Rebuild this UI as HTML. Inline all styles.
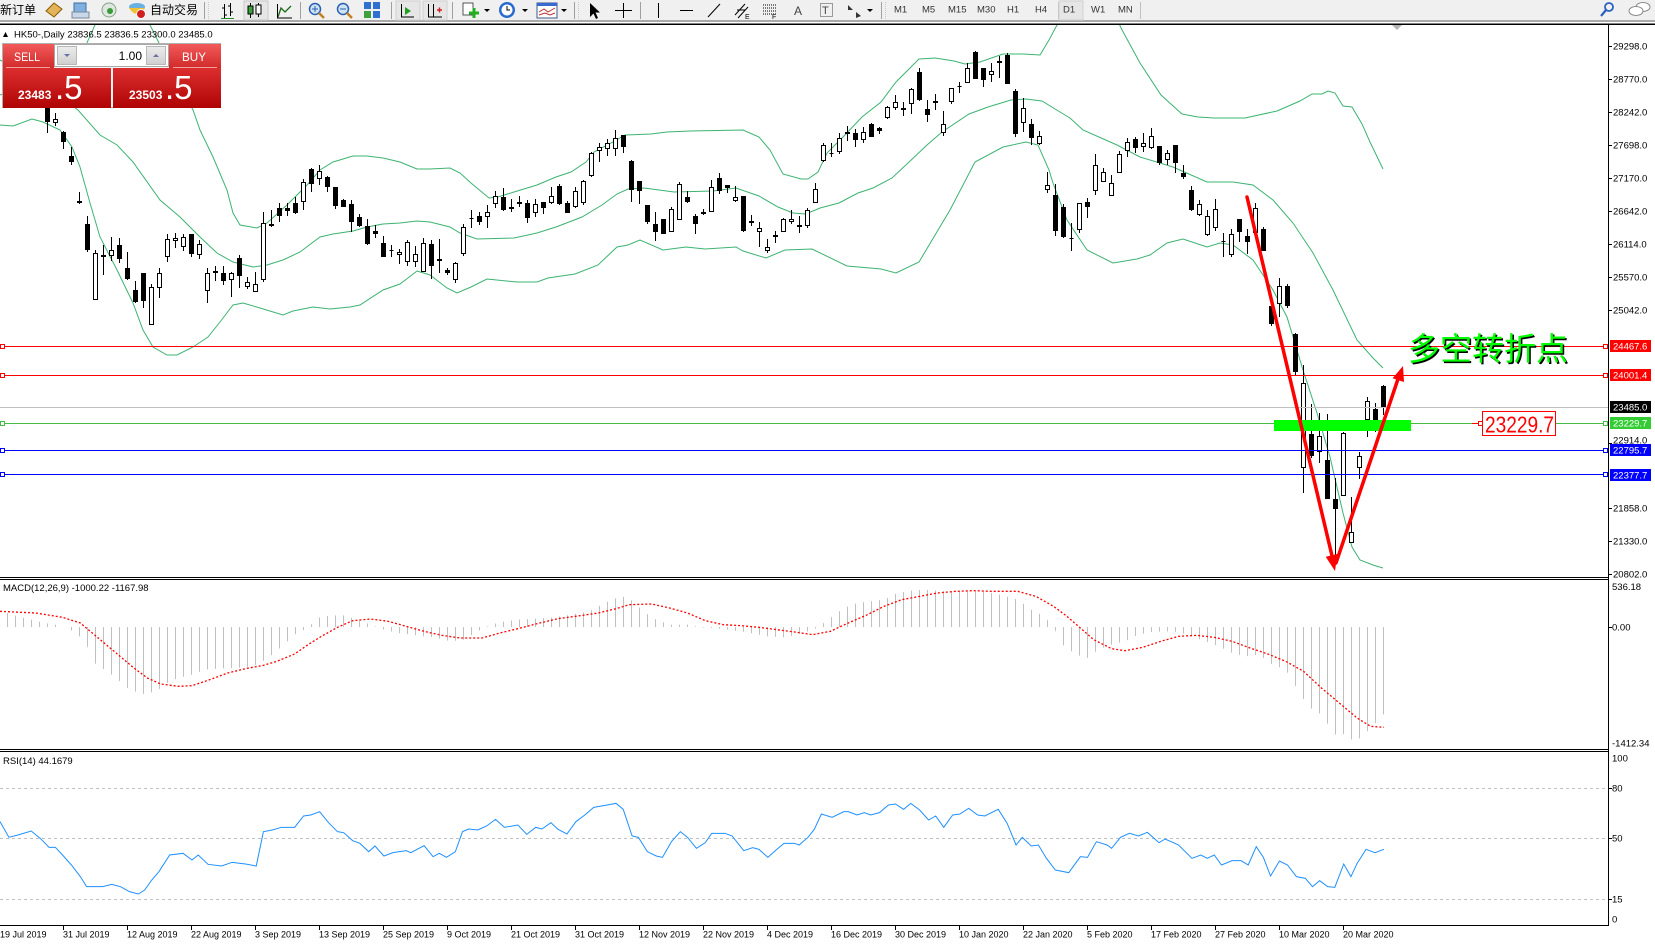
<!DOCTYPE html>
<html>
<head>
<meta charset="utf-8">
<style>
html,body{margin:0;padding:0;background:#fff;overflow:hidden;}
svg{display:block;}
text{font-family:"Liberation Sans","Noto Sans CJK SC",sans-serif;}
</style>
</head>
<body>
<svg width="1655" height="944" viewBox="0 0 1655 944" xmlns="http://www.w3.org/2000/svg">
<defs>
  <clipPath id="cm"><rect x="0" y="25" width="1608" height="552"/></clipPath>
  <linearGradient id="gR1" x1="0" y1="0" x2="0" y2="1"><stop offset="0" stop-color="#f25a5a"/><stop offset="1" stop-color="#d22a2a"/></linearGradient>
  <linearGradient id="gR2" x1="0" y1="0" x2="0" y2="1"><stop offset="0" stop-color="#dc2e2e"/><stop offset="1" stop-color="#b00404"/></linearGradient>
  <linearGradient id="gBtn" x1="0" y1="0" x2="0" y2="1"><stop offset="0" stop-color="#ececec"/><stop offset="1" stop-color="#cfcfcf"/></linearGradient>
  <pattern id="hp" patternUnits="userSpaceOnUse" x="0" y="0" width="8.96" height="30"><rect x="7.84" y="0" width="1.12" height="30" fill="#c0c0c0"/></pattern>
</defs>
<rect x="0" y="0" width="1655" height="944" fill="#fff"/>

<!-- ================= TOOLBAR ================= -->
<g id="toolbar">
  <rect x="0" y="0" width="1655" height="21" fill="#f0f0f0"/>
  <rect x="0" y="20" width="1655" height="2" fill="#a9a9a9"/>
  <rect x="0" y="22" width="1655" height="1.5" fill="#ffffff"/>
  <rect x="0" y="23.5" width="1655" height="1.5" fill="#000"/>
  <text x="0" y="14" font-size="12" fill="#000">新订单</text>
  <polygon points="46,11 54,3 62,9 54,17" fill="#e3b35a" stroke="#8b5a00" stroke-width="1"/>
  <rect x="74" y="3" width="12" height="9" fill="#7fb0e0" stroke="#3a6ea5"/>
  <rect x="72" y="12" width="17" height="6" fill="#c8d8e8" stroke="#7a8a9a"/>
  <circle cx="109" cy="10" r="7" fill="#dfe8df" stroke="#8aa08a"/>
  <circle cx="110" cy="11" r="3" fill="#3a9a3a"/>
  <ellipse cx="137" cy="7" rx="8" ry="4" fill="#6ab0e0"/>
  <path d="M129,8 Q137,20 145,8 Z" fill="#f0c030"/>
  <circle cx="141" cy="14" r="4.5" fill="#d02020" stroke="#fff" stroke-width="1"/>
  <text x="150" y="14" font-size="12" fill="#000">自动交易</text>
  <line x1="204.5" y1="2" x2="204.5" y2="19" stroke="#a0a0a0"/>
  <line x1="208.5" y1="2" x2="208.5" y2="19" stroke="#c8c8c8" stroke-dasharray="1,1"/>
  <path d="M224.5 4V18 M222 8H224.5 M224.5 15H227 M230.5 3V16 M228 6H230.5 M230.5 12H233" stroke="#000" fill="none"/>
  <line x1="221" y1="18.5" x2="234" y2="18.5" stroke="#2a8a2a"/>
  <rect x="244" y="1" width="24" height="19" fill="#e6e6e6" stroke="#c8c8c8"/>
  <path d="M250.5 3V18 M258.5 3V17" stroke="#000"/>
  <rect x="248" y="6" width="5" height="8" fill="#3aa03a" stroke="#000"/>
  <rect x="256" y="5" width="5" height="9" fill="#fff" stroke="#000"/>
  <path d="M278 17 L281 8 L285 12 L291 6" stroke="#1a6a1a" fill="none" stroke-width="1.3"/>
  <path d="M277.5 4V18H292" stroke="#000" fill="none"/>
  <line x1="300.5" y1="2" x2="300.5" y2="19" stroke="#a0a0a0"/>
  <circle cx="315" cy="9" r="5.5" fill="#cfe3f7" stroke="#2a60b0" stroke-width="1.5"/>
  <path d="M312 9h6M315 6v6" stroke="#2a60b0"/>
  <line x1="319" y1="13" x2="324" y2="18" stroke="#c08020" stroke-width="2.5"/>
  <circle cx="343" cy="9" r="5.5" fill="#cfe3f7" stroke="#2a60b0" stroke-width="1.5"/>
  <path d="M340 9h6" stroke="#2a60b0"/>
  <line x1="347" y1="13" x2="352" y2="18" stroke="#c08020" stroke-width="2.5"/>
  <rect x="364" y="2" width="7" height="7" fill="#3070d0"/><rect x="373" y="2" width="7" height="7" fill="#3070d0"/>
  <rect x="364" y="11" width="7" height="7" fill="#40a040"/><rect x="373" y="11" width="7" height="7" fill="#3070d0"/>
  <line x1="391.5" y1="2" x2="391.5" y2="19" stroke="#a0a0a0"/>
  <rect x="396" y="1" width="24" height="19" fill="#e6e6e6" stroke="#d0d0d0"/>
  <path d="M401.5 4V17H414" stroke="#000" fill="none"/>
  <polygon points="405,7 411,11 405,15" fill="#20a020"/>
  <rect x="423" y="1" width="24" height="19" fill="#e6e6e6" stroke="#d0d0d0"/>
  <path d="M428.5 4V17H442 M433.5 4V17" stroke="#000" fill="none"/>
  <path d="M437 10h5M439.5 7.5v5" stroke="#d02020" stroke-width="1.5"/>
  <line x1="452.5" y1="2" x2="452.5" y2="19" stroke="#a0a0a0"/>
  <rect x="463" y="3" width="10" height="12" fill="#fff" stroke="#555"/>
  <path d="M474 8v10M469 13h10" stroke="#20b020" stroke-width="3"/>
  <polygon points="484,9 490,9 487,12" fill="#000"/>
  <circle cx="507" cy="10" r="8" fill="#2a6ad0"/><circle cx="507" cy="10" r="5.5" fill="#fff"/>
  <path d="M507 6v4h3" stroke="#000" fill="none"/>
  <polygon points="522,9 528,9 525,12" fill="#000"/>
  <rect x="537" y="3" width="20" height="15" fill="#fff" stroke="#3a5a8a"/>
  <rect x="537" y="3" width="20" height="3" fill="#3a6ad0"/>
  <path d="M539 12 L544 9 L548 12 L555 8 M539 15 L545 13 L550 15 L555 13" stroke="#c03030" fill="none"/>
  <polygon points="561,9 567,9 564,12" fill="#000"/>
  <line x1="574.5" y1="2" x2="574.5" y2="19" stroke="#a0a0a0"/>
  <line x1="578.5" y1="2" x2="578.5" y2="19" stroke="#c8c8c8" stroke-dasharray="1,1"/>
  <polygon points="590,3 590,17 593.5,13.5 596,19 598,18 595.5,12.5 600,12.5" fill="#000"/>
  <path d="M623.5 3V18 M615 10.5H632" stroke="#000"/>
  <line x1="640.5" y1="2" x2="640.5" y2="19" stroke="#a0a0a0"/>
  <line x1="658.5" y1="3" x2="658.5" y2="18" stroke="#000"/>
  <line x1="680" y1="10.5" x2="693" y2="10.5" stroke="#000"/>
  <line x1="708" y1="17" x2="720" y2="4" stroke="#000"/>
  <path d="M735 15 L745 4 M738 18 L748 7 M737 10h8" stroke="#000" fill="none"/>
  <text x="745" y="19" font-size="7" fill="#000">E</text>
  <path d="M763 5h13M763 8h13M763 11h13M763 14h13" stroke="#000" stroke-dasharray="1,1"/>
  <text x="772" y="19" font-size="7" fill="#000">F</text>
  <text x="794" y="15" font-size="12" fill="#444">A</text>
  <rect x="820.5" y="3.5" width="12" height="13" fill="none" stroke="#444" stroke-dasharray="1,1"/>
  <text x="822" y="14" font-size="11" fill="#444">T</text>
  <path d="M848 5l5 5-5 0z M856 12l5 4-5 2z" fill="#333"/>
  <polygon points="867,9 873,9 870,12" fill="#000"/>
  <line x1="881.5" y1="2" x2="881.5" y2="19" stroke="#a0a0a0"/>
  <line x1="885.5" y1="2" x2="885.5" y2="19" stroke="#c8c8c8" stroke-dasharray="1,1"/>
  <g font-size="9.5" fill="#333">
    <text x="894" y="12.5">M1</text>
    <text x="922" y="12.5">M5</text>
    <text x="948" y="12.5">M15</text>
    <text x="977" y="12.5">M30</text>
    <text x="1007" y="12.5">H1</text>
    <text x="1035" y="12.5">H4</text>
  </g>
  <line x1="1058.5" y1="2" x2="1058.5" y2="19" stroke="#c0c0c0"/>
  <rect x="1059" y="1" width="24" height="19" fill="#e6e6e6" stroke="#d0d0d0"/>
  <g font-size="9.5" fill="#333">
    <text x="1063" y="12.5">D1</text>
    <text x="1091" y="12.5">W1</text>
    <text x="1118" y="12.5">MN</text>
  </g>
  <line x1="1140.5" y1="2" x2="1140.5" y2="19" stroke="#c0c0c0"/>
  <circle cx="1609" cy="7" r="4" fill="none" stroke="#2a60c0" stroke-width="1.8"/>
  <line x1="1606" y1="10" x2="1601" y2="16" stroke="#2a60c0" stroke-width="2.2"/>
  <ellipse cx="1643" cy="7" rx="7" ry="4.5" fill="#fff" stroke="#888"/>
  <ellipse cx="1636" cy="11" rx="7" ry="4.5" fill="#fff" stroke="#888"/>
</g>

<!-- RSI level lines -->
<g stroke="#c0c0c0" stroke-dasharray="3,3" stroke-width="1">
  <line x1="0" y1="788.5" x2="1608" y2="788.5"/>
  <line x1="0" y1="838.5" x2="1608" y2="838.5"/>
  <line x1="0" y1="899.5" x2="1608" y2="899.5"/>
</g>

<!-- ================= MAIN CHART ================= -->
<g clip-path="url(#cm)">
  <g fill="none" stroke="#3cb371" stroke-width="1">
    <polyline points="0,95 40,78 70,60 86,45 95,25 105,-10 140,-10 150,25 160,45 175,75 193,110 200,130 213,157 227,190 233,213 240,225 257,228 267,223 287,205 307,185 320,170 333,162 353,156 367,156 383,158 400,162 417,169 430,169 450,168 460,173 471,183 489,198 498,197 514,192 537,185 556,177 571,172 586,162 594,152 613,142 625,135 651,134 667,132 690,131 743,130 759,137 770,150 783,174 801,179 808,179 818,172 827,153 843,137 862,117 881,102 896,82 919,59 935,58 954,61 965,64 980,62 1003,54 1023,54 1040,55 1049,40 1057,25 1070,-10 1105,-10 1121,28 1140,63 1161,95 1182,114 1198,117 1214,118 1245,118 1277,111 1300,101 1312,94 1322,94 1328,91 1335,93 1343,106 1352,107 1362,124 1370,142 1383,169"/>
    <polyline points="0,60 40,82 78,110 100,135 117,145 133,162 160,200 180,217 200,237 217,253 233,262 253,267 267,265 283,260 300,252 320,237 333,234 353,231 367,227 383,224 400,223 417,221 430,222 450,227 460,233 477,239 514,238 537,233 556,227 582,217 602,205 617,194 628,189 644,188 674,192 713,191 736,188 759,196 778,207 793,213 806,214 820,208 839,203 858,193 873,188 892,178 908,163 927,145 942,132 969,114 988,107 1011,100 1026,99 1042,101 1060,112 1070,118 1083,130 1117,145 1140,157 1173,167 1207,182 1233,182 1253,185 1273,200 1293,223 1313,253 1333,290 1357,340 1373,358 1383,368"/>
    <polyline points="0,125 13,126 32,119 43,122 60,130 72,147 80,167 90,203 100,237 117,270 133,303 143,330 153,347 167,355 177,355 193,347 208,337 220,322 233,305 243,303 260,308 283,315 293,311 313,307 330,309 350,307 360,305 383,290 400,284 417,271 430,275 447,288 457,293 471,287 487,279 517,282 537,282 548,278 575,274 598,265 617,247 628,245 640,240 663,250 686,247 705,249 736,247 743,251 766,258 785,250 812,249 847,266 881,269 896,273 919,262 950,210 975,162 1003,147 1026,142 1038,145 1049,170 1053,183 1067,220 1087,250 1113,263 1137,259 1150,255 1167,243 1183,239 1207,247 1220,243 1233,245 1253,260 1273,290 1287,317 1303,370 1317,413 1330,457 1343,513 1352,547 1360,560 1373,565 1383,568"/>
  </g>

  <!-- candles -->
  <path fill="none" stroke="#000" stroke-width="1" d="M7.5 85V100M15.5 92V104M23.5 90V103M31.5 88V104M39.5 92V104M47.5 104V133M55.5 113V126M63.5 131V149M71.5 147V165M79.5 192V204M87.5 216V252M95.5 250V300M103.5 245V275M111.5 237V261M119.5 238V263M127.5 252V280M135.5 281V303M143.5 273V308M151.5 284V325M159.5 268V298M167.5 234V262M175.5 233V248M183.5 234V251M191.5 234V257M199.5 240V259M207.5 268V303M215.5 266V281M223.5 266V285M231.5 272V297M239.5 255V288M247.5 277V289M255.5 272V292M263.5 212V282M271.5 210V227M279.5 203V222M287.5 203V216M295.5 197V214M303.5 179V210M311.5 168V192M319.5 165V185M327.5 176V192M335.5 187V209M343.5 199V207M351.5 200V232M359.5 214V227M367.5 219V245M375.5 225V238M383.5 236V257M391.5 245V257M399.5 249V264M407.5 240V266M415.5 246V267M423.5 238V272M431.5 240V279M439.5 239V273M447.5 268V275M455.5 262V283M463.5 224V256M471.5 210V228M479.5 212V225M487.5 205V228M495.5 191V208M503.5 188V211M511.5 199V212M519.5 196V207M527.5 200V223M535.5 199V217M543.5 202V214M551.5 187V204M559.5 184V205M567.5 201V213M575.5 187V208M583.5 180V205M591.5 152V177M599.5 143V162M607.5 139V156M615.5 130V156M623.5 135V153M631.5 160V202M639.5 181V204M647.5 205V224M655.5 212V241M663.5 219V234M671.5 207V232M679.5 182V220M687.5 191V203M695.5 214V234M703.5 209V215M711.5 180V212M719.5 173V194M727.5 185V193M735.5 186V202M743.5 196V232M751.5 215V226M759.5 222V247M767.5 239V253M775.5 231V243M783.5 218V232M791.5 210V224M799.5 216V233M807.5 208V228M815.5 183V203M823.5 143V162M831.5 143V157M839.5 133V154M847.5 126V141M855.5 129V147M863.5 127V143M871.5 123V137M879.5 127V134M887.5 106V119M895.5 95V110M903.5 102V116M911.5 88V114M919.5 68V101M927.5 100V122M935.5 94V110M943.5 111V136M951.5 88V104M959.5 82V93M967.5 63V83M975.5 51V79M983.5 68V87M991.5 63V82M999.5 56V78M1007.5 53V84M1015.5 89V137M1023.5 98V132M1031.5 119V145M1039.5 131V145M1047.5 172V193M1055.5 184V236M1063.5 204V238M1071.5 223V251M1079.5 203V233M1087.5 198V218M1095.5 154V195M1103.5 168V182M1111.5 175V196M1119.5 151V173M1127.5 138V157M1135.5 137V153M1143.5 133V152M1151.5 128V149M1159.5 146V165M1167.5 150V165M1175.5 145V173M1183.5 165V179M1191.5 186V211M1199.5 200V216M1207.5 210V236M1215.5 199V231M1223.5 233V257M1231.5 229V257M1239.5 219V242M1247.5 229V254M1255.5 203V233M1263.5 227V251M1271.5 306V326M1279.5 278V317M1287.5 284V308M1295.5 333V375M1303.5 365V493M1311.5 404V458M1319.5 413V463M1327.5 414V499M1335.5 478V563M1343.5 432V496M1351.5 497V543M1359.5 452V479M1367.5 397V437M1375.5 403V432M1383.5 385V415"/>
  <path fill="#fff" stroke="#000" stroke-width="1" d="M21.5 94.5h4v4h-4zM37.5 95.5h4v4h-4zM53.5 119.5h4v3h-4zM77.5 201.5h4v1h-4zM93.5 253.5h4v46h-4zM101.5 255.5h4v1h-4zM109.5 250.5h4v5h-4zM149.5 287.5h4v37h-4zM157.5 273.5h4v14h-4zM165.5 239.5h4v17h-4zM173.5 238.5h4v2h-4zM181.5 237.5h4v9h-4zM197.5 244.5h4v10h-4zM205.5 273.5h4v17h-4zM229.5 273.5h4v6h-4zM245.5 282.5h4v4h-4zM253.5 284.5h4v7h-4zM261.5 223.5h4v56h-4zM301.5 182.5h4v19h-4zM317.5 171.5h4v7h-4zM397.5 252.5h4v2h-4zM405.5 242.5h4v19h-4zM413.5 254.5h4v7h-4zM421.5 243.5h4v28h-4zM453.5 263.5h4v16h-4zM461.5 227.5h4v26h-4zM485.5 212.5h4v4h-4zM493.5 196.5h4v7h-4zM533.5 204.5h4v8h-4zM549.5 196.5h4v6h-4zM573.5 191.5h4v15h-4zM581.5 181.5h4v21h-4zM589.5 153.5h4v22h-4zM597.5 147.5h4v3h-4zM605.5 143.5h4v5h-4zM613.5 138.5h4v10h-4zM669.5 209.5h4v22h-4zM677.5 184.5h4v35h-4zM701.5 212.5h4v1h-4zM709.5 187.5h4v24h-4zM733.5 197.5h4v3h-4zM757.5 228.5h4v3h-4zM765.5 247.5h4v3h-4zM781.5 219.5h4v12h-4zM789.5 219.5h4v2h-4zM805.5 210.5h4v15h-4zM813.5 189.5h4v13h-4zM821.5 145.5h4v15h-4zM829.5 153.5h4v0h-4zM837.5 138.5h4v13h-4zM861.5 132.5h4v7h-4zM885.5 107.5h4v10h-4zM893.5 102.5h4v5h-4zM909.5 89.5h4v14h-4zM941.5 124.5h4v8h-4zM949.5 88.5h4v13h-4zM957.5 86.5h4v0h-4zM965.5 68.5h4v14h-4zM989.5 71.5h4v3h-4zM997.5 61.5h4v1h-4zM1021.5 108.5h4v14h-4zM1037.5 136.5h4v7h-4zM1045.5 185.5h4v4h-4zM1077.5 203.5h4v26h-4zM1093.5 165.5h4v25h-4zM1101.5 172.5h4v9h-4zM1109.5 183.5h4v12h-4zM1117.5 154.5h4v18h-4zM1125.5 142.5h4v8h-4zM1141.5 143.5h4v3h-4zM1149.5 136.5h4v11h-4zM1165.5 153.5h4v6h-4zM1197.5 204.5h4v10h-4zM1205.5 216.5h4v18h-4zM1213.5 209.5h4v18h-4zM1229.5 234.5h4v20h-4zM1253.5 208.5h4v24h-4zM1277.5 286.5h4v17h-4zM1301.5 383.5h4v84h-4zM1317.5 436.5h4v15h-4zM1341.5 433.5h4v62h-4zM1349.5 532.5h4v10h-4zM1357.5 456.5h4v11h-4zM1365.5 401.5h4v18h-4z"/>
  <path fill="#000" stroke="#000" stroke-width="1" d="M5.5 90.5h4v7h-4zM13.5 96.5h4v4h-4zM29.5 92.5h4v9h-4zM45.5 108.5h4v13h-4zM61.5 132.5h4v9h-4zM69.5 156.5h4v5h-4zM85.5 224.5h4v25h-4zM117.5 245.5h4v13h-4zM125.5 268.5h4v10h-4zM133.5 290.5h4v11h-4zM141.5 273.5h4v27h-4zM189.5 234.5h4v19h-4zM213.5 271.5h4v1h-4zM221.5 273.5h4v7h-4zM237.5 258.5h4v17h-4zM269.5 224.5h4v1h-4zM277.5 208.5h4v7h-4zM285.5 208.5h4v2h-4zM293.5 203.5h4v9h-4zM309.5 169.5h4v14h-4zM325.5 177.5h4v9h-4zM333.5 187.5h4v18h-4zM341.5 200.5h4v6h-4zM349.5 204.5h4v17h-4zM357.5 217.5h4v8h-4zM365.5 226.5h4v17h-4zM373.5 231.5h4v2h-4zM381.5 243.5h4v13h-4zM389.5 250.5h4v0h-4zM429.5 244.5h4v21h-4zM437.5 259.5h4v1h-4zM445.5 270.5h4v2h-4zM469.5 218.5h4v0h-4zM477.5 216.5h4v5h-4zM501.5 197.5h4v12h-4zM509.5 207.5h4v1h-4zM517.5 202.5h4v1h-4zM525.5 203.5h4v14h-4zM541.5 202.5h4v5h-4zM557.5 186.5h4v17h-4zM565.5 203.5h4v9h-4zM621.5 135.5h4v11h-4zM629.5 161.5h4v28h-4zM637.5 181.5h4v9h-4zM645.5 205.5h4v16h-4zM653.5 224.5h4v7h-4zM661.5 219.5h4v14h-4zM685.5 197.5h4v4h-4zM693.5 216.5h4v7h-4zM717.5 178.5h4v12h-4zM725.5 185.5h4v2h-4zM741.5 196.5h4v34h-4zM749.5 221.5h4v1h-4zM773.5 235.5h4v1h-4zM797.5 225.5h4v1h-4zM845.5 132.5h4v1h-4zM853.5 133.5h4v6h-4zM869.5 124.5h4v12h-4zM877.5 128.5h4v2h-4zM901.5 108.5h4v1h-4zM917.5 72.5h4v27h-4zM925.5 109.5h4v5h-4zM933.5 101.5h4v1h-4zM973.5 52.5h4v26h-4zM981.5 68.5h4v11h-4zM1005.5 55.5h4v28h-4zM1013.5 91.5h4v42h-4zM1029.5 124.5h4v13h-4zM1053.5 195.5h4v35h-4zM1061.5 207.5h4v29h-4zM1069.5 238.5h4v0h-4zM1085.5 202.5h4v4h-4zM1133.5 139.5h4v8h-4zM1157.5 146.5h4v16h-4zM1173.5 145.5h4v17h-4zM1181.5 173.5h4v3h-4zM1189.5 190.5h4v19h-4zM1221.5 241.5h4v0h-4zM1237.5 219.5h4v12h-4zM1245.5 236.5h4v5h-4zM1261.5 229.5h4v21h-4zM1269.5 306.5h4v17h-4zM1285.5 286.5h4v19h-4zM1293.5 334.5h4v37h-4zM1309.5 434.5h4v21h-4zM1325.5 460.5h4v38h-4zM1333.5 499.5h4v9h-4zM1373.5 409.5h4v10h-4zM1381.5 386.5h4v20h-4z"/>

  <!-- level lines -->
  <g stroke-width="1">
    <line x1="0" y1="346.5" x2="1604" y2="346.5" stroke="#ff0000"/>
    <line x1="0" y1="375.5" x2="1604" y2="375.5" stroke="#ff0000"/>
    <line x1="0" y1="407.5" x2="1608" y2="407.5" stroke="#c0c0c0"/>
    <line x1="0" y1="423.5" x2="1604" y2="423.5" stroke="#44bb44"/>
    <line x1="0" y1="450.5" x2="1604" y2="450.5" stroke="#0000ff"/>
    <line x1="0" y1="474.5" x2="1604" y2="474.5" stroke="#0000ff"/>
  </g>
  <g fill="#fff" stroke-width="1">
    <rect x="0.5" y="344.5" width="4" height="4" stroke="#ff0000"/>
    <rect x="1603.5" y="344.5" width="4" height="4" stroke="#ff0000"/>
    <rect x="0.5" y="373.5" width="4" height="4" stroke="#ff0000"/>
    <rect x="1603.5" y="373.5" width="4" height="4" stroke="#ff0000"/>
    <rect x="0.5" y="421.5" width="4" height="4" stroke="#44bb44"/>
    <rect x="1603.5" y="421.5" width="4" height="4" stroke="#44bb44"/>
    <rect x="0.5" y="448.5" width="4" height="4" stroke="#0000ff"/>
    <rect x="1603.5" y="448.5" width="4" height="4" stroke="#0000ff"/>
    <rect x="0.5" y="472.5" width="4" height="4" stroke="#0000ff"/>
    <rect x="1603.5" y="472.5" width="4" height="4" stroke="#0000ff"/>
  </g>

  <!-- green zone bar -->
  <rect x="1274" y="420" width="137" height="11" fill="#00ff00"/>

  <!-- red V arrows -->
  <g stroke="#ff0000" stroke-width="3.5" stroke-linecap="round" fill="none">
    <line x1="1247" y1="197" x2="1333" y2="560"/>
    <line x1="1336" y1="563" x2="1399" y2="376"/>
  </g>
  <polygon points="1335,571 1325.7,556.8 1337.4,554" fill="#ff0000"/>
  <polygon points="1403,366 1404,382 1392.6,378.3" fill="#ff0000"/>

  <!-- annotation text -->
  <text x="1409.5" y="361.5" font-size="32" font-family="Noto Sans CJK SC, sans-serif" fill="#000">多空转折点</text>
  <text x="1408" y="360" font-size="32" font-family="Noto Sans CJK SC, sans-serif" fill="#00ff00">多空转折点</text>

  <line x1="1472" y1="423.5" x2="1482" y2="423.5" stroke="#ff0000"/>
  <rect x="1478.5" y="421.5" width="4" height="4" fill="#fff" stroke="#ff0000"/>
  <rect x="1482.5" y="411.5" width="73" height="24" fill="#fff" stroke="#ff0000"/>
  <text x="1485" y="432.5" font-size="23" fill="#ff0000" textLength="69" lengthAdjust="spacingAndGlyphs">23229.7</text>

  <polygon points="1392,25 1402,25 1397,30" fill="#b4b4b4"/>
</g>

<!-- ================= MACD ================= -->
<g transform="translate(0,578) scale(0.892857,0.333333)">
  <polygon fill="url(#hp)" points="6,147 6,105 8,105 20,115 35,125 50,135 62,140 75,150 85,165 95,190 107,258 120,280 130,300 145,335 160,348 175,340 190,310 200,300 215,290 230,275 245,272 260,270 275,268 290,258 305,230 318,200 330,170 345,150 355,120 370,112 385,112 400,125 415,140 430,155 445,165 460,170 475,175 490,180 505,190 520,185 535,160 550,140 565,130 580,125 600,122 620,118 640,110 660,100 670,85 685,65 697,55 710,70 720,100 735,125 750,140 770,140 785,148 800,150 830,160 860,175 880,178 900,165 915,150 930,120 945,90 960,75 975,70 990,65 1005,45 1020,38 1035,35 1060,40 1080,40 1100,40 1120,50 1140,65 1155,95 1170,115 1180,148 1190,200 1205,230 1218,240 1230,215 1245,200 1260,190 1275,170 1290,162 1305,160 1320,162 1335,175 1350,190 1365,205 1380,225 1395,235 1410,230 1425,260 1440,275 1450,320 1465,385 1480,410 1495,470 1510,468 1515,490 1525,478 1535,450 1551,405 1551,147"/>
  <polyline fill="none" stroke="#ff0000" stroke-width="1.3" stroke-dasharray="2,2" vector-effect="non-scaling-stroke" points="0,100 40,105 70,118 90,135 110,180 130,225 150,270 165,300 180,318 200,325 215,323 235,305 255,285 275,272 295,262 310,250 330,228 345,200 360,175 378,148 395,128 415,123 435,130 455,145 475,160 495,172 515,180 540,180 560,165 580,152 600,138 625,122 650,113 670,105 690,92 705,80 730,78 750,90 770,105 790,128 810,140 830,143 850,148 870,155 890,162 910,170 930,160 950,135 970,112 990,85 1010,65 1030,55 1050,45 1070,40 1090,38 1110,40 1140,40 1160,55 1180,85 1195,115 1210,150 1225,185 1245,212 1260,218 1280,208 1300,190 1320,175 1340,172 1360,178 1380,190 1400,210 1420,228 1440,250 1460,280 1480,330 1500,375 1520,420 1535,445 1550,448"/>
</g>
<text x="3" y="591" font-size="9.5" fill="#000">MACD(12,26,9) -1000.22 -1167.98</text>

<!-- ================= RSI ================= -->
<g transform="translate(0,750) scale(0.892857,0.333333)">
  <polyline fill="none" stroke="#1e90ff" stroke-width="1" vector-effect="non-scaling-stroke" points="0,215 10,262 20,255 35,243 45,265 55,292 62,292 70,315 80,345 90,380 97,410 115,410 125,403 135,410 145,425 155,432 162,420 170,390 178,365 190,315 205,310 215,330 222,315 233,343 248,348 260,337 275,342 287,348 295,245 305,240 315,232 330,232 340,198 348,195 358,185 368,218 378,245 385,248 395,272 403,280 413,305 420,288 430,318 440,308 455,302 460,308 475,287 485,320 492,310 500,322 510,305 518,245 525,237 535,240 545,228 555,208 565,232 580,225 590,253 600,232 607,237 617,218 625,238 635,252 645,215 655,195 665,172 680,165 690,160 698,178 708,258 715,262 725,305 735,318 742,322 752,275 762,245 770,262 780,295 790,278 797,250 812,250 820,258 833,302 843,293 850,298 860,322 870,298 878,280 890,280 895,285 905,262 912,238 920,192 932,202 945,185 950,185 960,195 968,188 975,195 985,188 995,165 1003,162 1012,178 1020,160 1030,180 1040,210 1048,198 1057,232 1067,195 1075,192 1085,175 1095,195 1103,198 1118,178 1128,220 1138,285 1145,262 1155,288 1163,285 1172,325 1182,360 1197,368 1210,320 1218,322 1228,275 1240,285 1245,295 1255,262 1265,250 1275,258 1285,247 1298,278 1305,267 1320,285 1335,325 1345,315 1352,325 1360,315 1368,345 1380,332 1390,332 1398,345 1407,290 1415,322 1423,378 1433,333 1442,345 1452,380 1462,385 1470,410 1478,392 1487,410 1495,412 1505,342 1513,380 1520,340 1530,298 1540,308 1550,298"/>
</g>
<text x="3" y="764" font-size="9.5" fill="#000">RSI(14) 44.1679</text>

<!-- ================= FRAMES ================= -->
<g fill="#000">
  <rect x="0" y="577" width="1608" height="1"/>
  <rect x="0" y="579" width="1608" height="1"/>
  <rect x="0" y="749" width="1608" height="1"/>
  <rect x="0" y="751" width="1608" height="1"/>
  <rect x="0" y="925" width="1608" height="1"/>
  <rect x="1608" y="24" width="1" height="902"/>
</g>

<!-- price axis ticks -->
<path stroke="#000" stroke-width="1" d="M1609 46.5h3M1609 79.5h3M1609 112.5h3M1609 145.5h3M1609 178.5h3M1609 211.5h3M1609 244.5h3M1609 277.5h3M1609 310.5h3M1609 443.5h3M1609 508.5h3M1609 541.5h3M1609 574.5h3M1609 627.5h3M1609 788.5h3M1609 838.5h3M1609 899.5h3"/>
<g font-size="9.5" fill="#000">
  <text x="1613" y="49.5">29298.0</text>
  <text x="1613" y="82.5">28770.0</text>
  <text x="1613" y="115.5">28242.0</text>
  <text x="1613" y="148.5">27698.0</text>
  <text x="1613" y="181.5">27170.0</text>
  <text x="1613" y="214.5">26642.0</text>
  <text x="1613" y="247.5">26114.0</text>
  <text x="1613" y="280.5">25570.0</text>
  <text x="1613" y="313.5">25042.0</text>
  <text x="1613" y="443.5">22914.0</text>
  <text x="1613" y="511.5">21858.0</text>
  <text x="1613" y="544.5">21330.0</text>
  <text x="1613" y="577.5">20802.0</text>
</g>
<g>
  <rect x="1610" y="340" width="41" height="12" fill="#ff0000"/>
  <rect x="1610" y="369" width="41" height="12" fill="#ff0000"/>
  <rect x="1610" y="401" width="41" height="12" fill="#000000"/>
  <rect x="1610" y="417" width="41" height="12" fill="#33cc33"/>
  <rect x="1610" y="444" width="41" height="12" fill="#0000ff"/>
  <rect x="1610" y="469" width="41" height="12" fill="#0000ff"/>
</g>
<g font-size="9.5" fill="#fff">
  <text x="1613" y="349.5">24467.6</text>
  <text x="1613" y="378.5">24001.4</text>
  <text x="1613" y="410.5">23485.0</text>
  <text x="1613" y="426.5">23229.7</text>
  <text x="1613" y="453.5">22795.7</text>
  <text x="1613" y="478.5">22377.7</text>
</g>
<g font-size="9.5" fill="#000">
  <text x="1612" y="590">536.18</text>
  <text x="1612" y="630.5">0.00</text>
  <text x="1612" y="746.5">-1412.34</text>
  <text x="1612" y="761.5">100</text>
  <text x="1612" y="791.5">80</text>
  <text x="1612" y="841.5">50</text>
  <text x="1612" y="902.5">15</text>
  <text x="1612" y="922.5">0</text>
</g>

<!-- date axis -->
<path stroke="#000" stroke-width="1" d="M63.5 926v4M127.5 926v4M191.5 926v4M255.5 926v4M319.5 926v4M383.5 926v4M447.5 926v4M511.5 926v4M575.5 926v4M639.5 926v4M703.5 926v4M767.5 926v4M831.5 926v4M895.5 926v4M959.5 926v4M1023.5 926v4M1087.5 926v4M1151.5 926v4M1215.5 926v4M1279.5 926v4M1343.5 926v4"/>
<g font-size="9" fill="#000">
  <text x="0" y="937.5">19 Jul 2019</text>
  <text x="63" y="937.5">31 Jul 2019</text>
  <text x="127" y="937.5">12 Aug 2019</text>
  <text x="191" y="937.5">22 Aug 2019</text>
  <text x="255" y="937.5">3 Sep 2019</text>
  <text x="319" y="937.5">13 Sep 2019</text>
  <text x="383" y="937.5">25 Sep 2019</text>
  <text x="447" y="937.5">9 Oct 2019</text>
  <text x="511" y="937.5">21 Oct 2019</text>
  <text x="575" y="937.5">31 Oct 2019</text>
  <text x="639" y="937.5">12 Nov 2019</text>
  <text x="703" y="937.5">22 Nov 2019</text>
  <text x="767" y="937.5">4 Dec 2019</text>
  <text x="831" y="937.5">16 Dec 2019</text>
  <text x="895" y="937.5">30 Dec 2019</text>
  <text x="959" y="937.5">10 Jan 2020</text>
  <text x="1023" y="937.5">22 Jan 2020</text>
  <text x="1087" y="937.5">5 Feb 2020</text>
  <text x="1151" y="937.5">17 Feb 2020</text>
  <text x="1215" y="937.5">27 Feb 2020</text>
  <text x="1279" y="937.5">10 Mar 2020</text>
  <text x="1343" y="937.5">20 Mar 2020</text>
</g>

<!-- ================= HEADER + ONE-CLICK PANEL ================= -->
<polygon points="3,37 8,37 5.5,32" fill="#000"/>
<text x="14" y="37.5" font-size="9.5" fill="#000">HK50-,Daily  23836.5 23836.5 23300.0 23485.0</text>

<g id="panel">
  <rect x="2.5" y="43.5" width="218" height="64" fill="#f4f4f4" stroke="#b0b0b0"/>
  <rect x="3" y="44" width="51" height="24" fill="url(#gR1)"/>
  <line x1="6" y1="67.5" x2="50" y2="67.5" stroke="#f4a0a0"/>
  <text x="14" y="61" font-size="12" fill="#fff" textLength="26" lengthAdjust="spacingAndGlyphs">SELL</text>
  <rect x="169" y="44" width="52" height="24" fill="url(#gR1)"/>
  <line x1="173" y1="67.5" x2="217" y2="67.5" stroke="#f4a0a0"/>
  <text x="182" y="61" font-size="12" fill="#fff" textLength="24" lengthAdjust="spacingAndGlyphs">BUY</text>
  <rect x="54.5" y="44.5" width="114" height="22" fill="#fff" stroke="#a8a8a8"/>
  <rect x="57.5" y="46.5" width="19" height="18" fill="url(#gBtn)" stroke="#b8b8b8"/>
  <polygon points="64,54 70,54 67,57" fill="#6a70a8"/>
  <rect x="146.5" y="46.5" width="19" height="18" fill="url(#gBtn)" stroke="#b8b8b8"/>
  <polygon points="153,57 159,57 156,54" fill="#6a70a8"/>
  <text x="142" y="60" font-size="12" fill="#000" text-anchor="end">1.00</text>
  <rect x="3" y="68" width="108" height="40" fill="url(#gR2)"/>
  <rect x="113" y="68" width="108" height="40" fill="url(#gR2)"/>
  <text x="18" y="99" font-size="12" font-weight="bold" fill="#fff">23483</text>
  <text x="55" y="99" font-size="33" fill="#fff">.5</text>
  <text x="129" y="99" font-size="12" font-weight="bold" fill="#fff">23503</text>
  <text x="165" y="99" font-size="33" fill="#fff">.5</text>
</g>
</svg>
</body>
</html>
